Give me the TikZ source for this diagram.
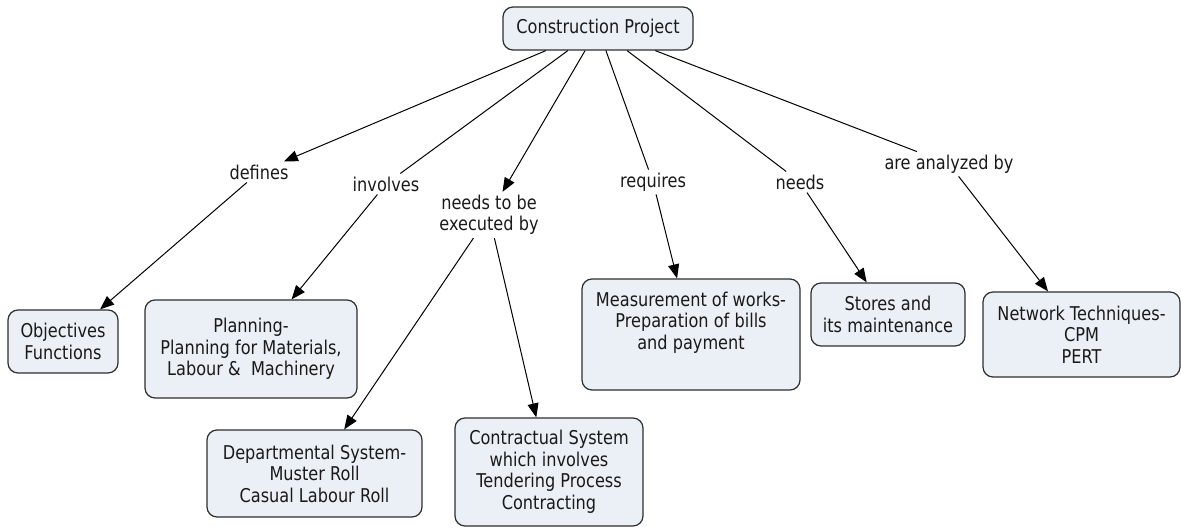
\documentclass[tikz,border=0pt]{standalone}
\usepackage{fontspec}
\setmainfont{DejaVu Sans}[FakeStretch=0.85]
\usepackage{xcolor}
\definecolor{boxfill}{HTML}{EAF0F5}
\definecolor{boxline}{HTML}{2E2E2E}
\definecolor{ink}{HTML}{1A1A1A}
\usetikzlibrary{arrows.meta,positioning}

\begin{document}
\begin{tikzpicture}[x=1pt,y=-1pt,
  box/.style={rectangle,rounded corners=10pt,draw=boxline,fill=boxfill,line width=1.2pt,
    text=ink,align=center,inner sep=2pt,font=\fontsize{19}{21.5}\selectfont},
  lbl/.style={text=ink,align=center,inner sep=3pt,font=\fontsize{19}{21.5}\selectfont},
  lin/.style={black,line width=1pt},
  arr/.style={-{Triangle[length=14pt,width=11pt]},black,line width=1pt}]
  \useasboundingbox (0,0) rectangle (1181,529);
  % concepts
  \node[box,minimum width=190pt,minimum height=43pt] (proj) at (598,28.5) {Construction Project};
  \node[box,minimum width=110pt,minimum height=63pt] (obj) at (63,341.5) {Objectives\\Functions};
  \node[box,minimum width=212pt,minimum height=98pt] (plan) at (251,349) {Planning-\\Planning for Materials,\\Labour \& \ Machinery};
  \node[box,minimum width=215pt,minimum height=87pt] (dept) at (314.5,473.5) {Departmental System-\\Muster Roll\\Casual Labour Roll};
  \node[box,minimum width=188pt,minimum height=108pt] (contr) at (549,472) {Contractual System\\which involves\\Tendering Process\\Contracting};
  \node[box,minimum width=218pt,minimum height=111pt,text depth=28pt] (meas) at (691,334.5) {Measurement of works-\\Preparation of bills\\and payment};
  \node[box,minimum width=154pt,minimum height=63pt] (store) at (888,314.5) {Stores and\\its maintenance};
  \node[box,minimum width=197pt,minimum height=85pt] (net) at (1081.5,334.5) {Network Techniques-\\CPM\\PERT};
  % linking phrases
  \node[lbl] (def) at (259,172) {defines};
  \node[lbl] (inv) at (386,184) {involves};
  \node[lbl] (exe) at (489,215) {needs to be\\executed by};
  \node[lbl] (req) at (653,182) {requires};
  \node[lbl] (nd) at (800,182) {needs};
  \node[lbl] (ana) at (949,164) {are analyzed by};
  % connectors
  \draw[arr] (proj)--(def); \draw[lin] (proj)--(inv); \draw[arr] (proj)--(exe);
  \draw[lin] (proj)--(req); \draw[lin] (proj)--(nd); \draw[lin] (proj)--(ana);
  \draw[arr] (def)--(obj); \draw[arr] (inv)--(plan);
  \draw[arr] (exe)--(dept); \draw[arr] (exe)--(contr);
  \draw[arr] (req)--(meas); \draw[arr] (nd)--(store); \draw[arr] (ana)--(net);
\end{tikzpicture}
\end{document}
